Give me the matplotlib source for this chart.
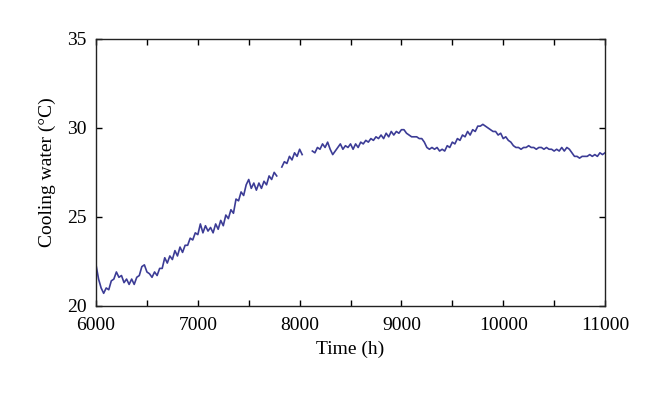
import numpy as np
import matplotlib.pyplot as plt
from matplotlib.ticker import MultipleLocator

# three recorded stretches (gaps between them), sampled every 25 h
step = 25
start1 = 6000
temp1 = [22.3, 21.5, 21.0, 20.7, 21.0, 20.9, 21.4, 21.5, 21.9, 21.6, 21.7, 21.3,
         21.5, 21.2, 21.5, 21.2, 21.6, 21.7, 22.2, 22.3, 21.9, 21.8, 21.6, 21.9,
         21.7, 22.1, 22.1, 22.7, 22.4, 22.8, 22.6, 23.1, 22.8, 23.3, 23.0, 23.4,
         23.4, 23.8, 23.7, 24.1, 24.0, 24.6, 24.1, 24.5, 24.2, 24.4, 24.1, 24.6,
         24.3, 24.8, 24.5, 25.1, 24.9, 25.4, 25.2, 26.0, 25.9, 26.4, 26.2, 26.8,
         27.1, 26.6, 26.9, 26.5, 26.9, 26.6, 27.0, 26.8, 27.3, 27.1, 27.5, 27.3]

start2 = 7825
temp2 = [27.8, 28.1, 28.0, 28.4, 28.2, 28.6, 28.4, 28.8, 28.5]

start3 = 8125
temp3 = [28.7, 28.6, 28.9, 28.8, 29.1, 28.9, 29.2, 28.8, 28.5, 28.7, 28.9, 29.1,
         28.8, 29.0, 28.9, 29.1, 28.8, 29.1, 28.9, 29.2, 29.1, 29.3, 29.2, 29.4,
         29.3, 29.5, 29.4, 29.6, 29.4, 29.7, 29.5, 29.8, 29.6, 29.8, 29.7, 29.9,
         29.9, 29.7, 29.6, 29.5, 29.5, 29.5, 29.4, 29.4, 29.2, 28.9, 28.8, 28.9,
         28.8, 28.9, 28.7, 28.8, 28.7, 29.0, 28.9, 29.2, 29.1, 29.4, 29.3, 29.6,
         29.5, 29.8, 29.6, 29.9, 29.8, 30.1, 30.1, 30.2, 30.1, 30.0, 29.9, 29.8,
         29.8, 29.6, 29.7, 29.4, 29.5, 29.3, 29.2, 29.0, 28.9, 28.9, 28.8, 28.9,
         28.9, 29.0, 28.9, 28.9, 28.8, 28.9, 28.9, 28.8, 28.9, 28.8, 28.8, 28.7,
         28.8, 28.7, 28.9, 28.7, 28.9, 28.8, 28.6, 28.4, 28.4, 28.3, 28.4, 28.4,
         28.4, 28.5, 28.4, 28.5, 28.4, 28.6, 28.5, 28.6]

plt.rcParams['font.family'] = ['Liberation Serif', 'DejaVu Serif']
plt.rcParams['font.size'] = 14

fig = plt.figure(figsize=(6.6, 3.93), dpi=100)
ax = fig.add_axes([0.1455, 0.222, 0.7712, 0.6788])

for start, temp in [(start1, temp1), (start2, temp2), (start3, temp3)]:
    t = start + step * np.arange(len(temp))
    ax.plot(t, temp, color='#3c3c96', lw=1.2)

ax.set_xlim(6000, 11000)
ax.set_ylim(20, 35)
ax.xaxis.set_major_locator(MultipleLocator(1000))
ax.xaxis.set_minor_locator(MultipleLocator(500))
ax.yaxis.set_major_locator(MultipleLocator(5))
ax.tick_params(which='both', direction='in', top=True, right=True, length=4, width=1)
ax.tick_params(axis='x', pad=8)
ax.tick_params(axis='y', pad=7)
for s in ax.spines.values():
    s.set_linewidth(1.0)
    s.set_color('#222222')

ax.set_xlabel('Time (h)', labelpad=5)
ax.set_ylabel('Cooling water (°C)', labelpad=8)

fig.savefig('out.png', dpi=100)
